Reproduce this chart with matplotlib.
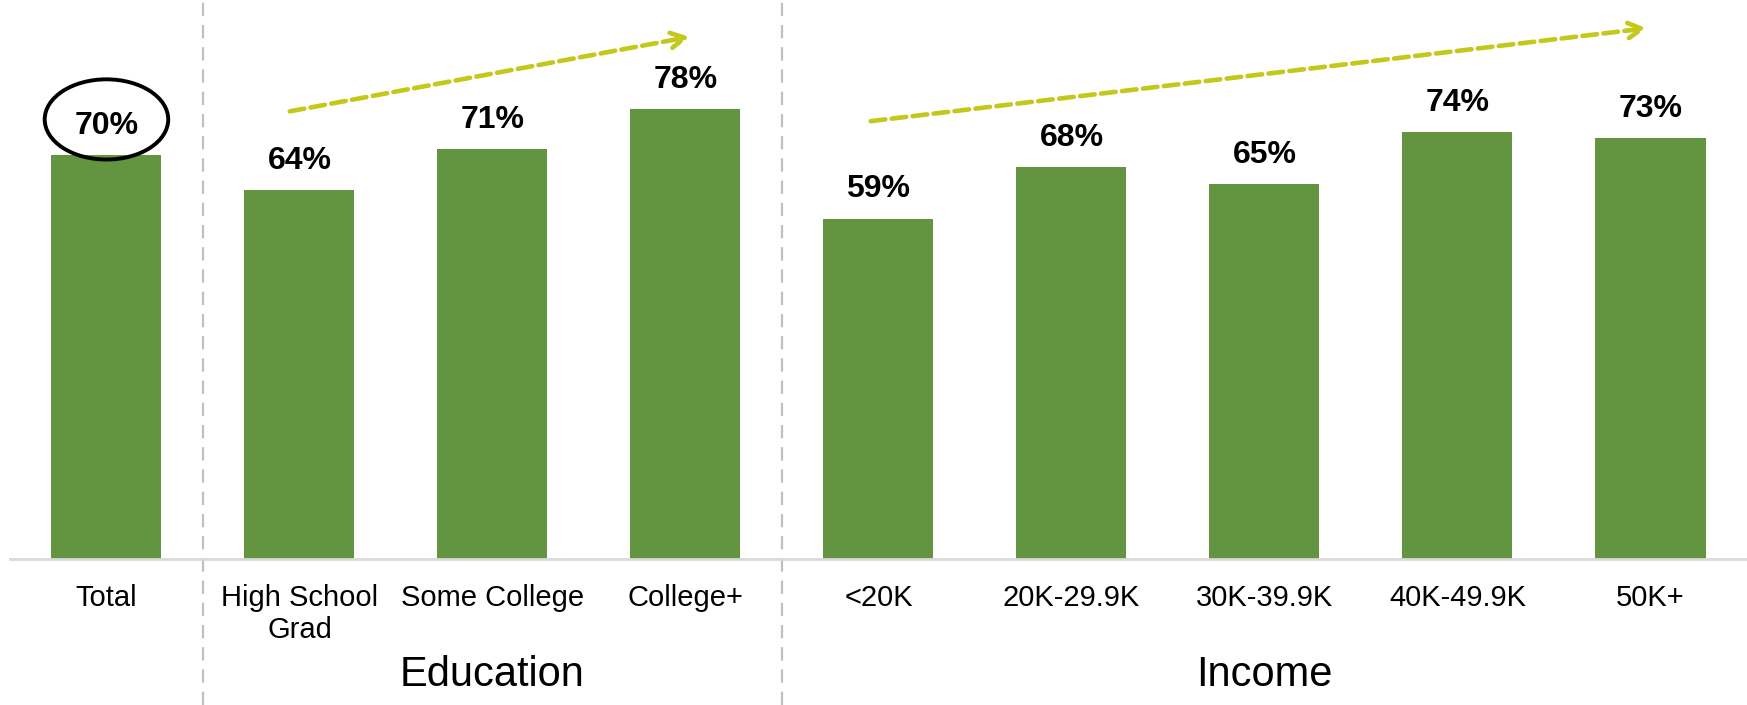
import matplotlib.pyplot as plt
from matplotlib.patches import Ellipse
import matplotlib.transforms as mtransforms

plt.rcParams['font.family'] = ['Liberation Sans', 'DejaVu Sans']

categories = ["Total", "High School\nGrad", "Some College", "College+",
              "<20K", "20K-29.9K", "30K-39.9K", "40K-49.9K", "50K+"]
values = [70, 64, 71, 78, 59, 68, 65, 74, 73]
groups = ["Education", "Income"]
group_centers = [2, 6]
separators = [0.5, 3.5]

green = "#63943f"
trend = "#c3c81a"

fig = plt.figure(figsize=(17.47, 7.05), dpi=100)
ax = fig.add_axes([0.0057, 0.207, 0.9943, 0.793])

x = list(range(len(categories)))
bars = ax.bar(x, values, width=0.57, color=green, zorder=2)

ax.set_xlim(-0.5, 8.5)
ax.set_ylim(0, 96.9)
ax.set_xticks(x)
ax.set_xticklabels(categories, fontsize=21, linespacing=1.2)
ax.tick_params(axis='x', length=0, pad=18)
ax.set_yticks([])
for s in ["top", "right", "left"]:
    ax.spines[s].set_visible(False)
ax.spines["bottom"].set_color("#d9d9d9")
ax.spines["bottom"].set_linewidth(2)

# value labels above bars
for xi, v in zip(x, values):
    ax.annotate(f"{v}%", (xi, v), xytext=(0, 21), textcoords="offset points",
                ha="center", va="center", fontsize=23, fontweight="bold")

# circle round the total
ax.add_patch(Ellipse((0, 76.2), 0.64, 13.9, fill=False, edgecolor="black",
                     linewidth=2.8, clip_on=False, zorder=3))

# dashed separators across the full height
trans = mtransforms.blended_transform_factory(ax.transData, fig.transFigure)
for sx in separators:
    ax.plot([sx, sx], [0, 1], transform=trans, color="#c0c0c0", linewidth=1.6,
            linestyle=(0, (6, 4)), clip_on=False, zorder=1)

# group labels
gtrans = mtransforms.blended_transform_factory(ax.transData, ax.transAxes)
for name, gx in zip(groups, group_centers):
    ax.text(gx, -0.2075, name, transform=gtrans, ha="center", va="center",
            fontsize=30)

# trend arrows
arrows = [((0.95, 77.6), (3.02, 90.5)), ((3.96, 75.9), (7.98, 92.0))]
for start, end in arrows:
    ax.annotate("", xy=end, xytext=start,
                arrowprops=dict(arrowstyle="->,head_length=1.0,head_width=0.55",
                                color=trend, linewidth=3.3, linestyle=(0, (3.2, 1.4)),
                                shrinkA=0, shrinkB=0),
                annotation_clip=False)

fig.savefig("out.png", dpi=100)
